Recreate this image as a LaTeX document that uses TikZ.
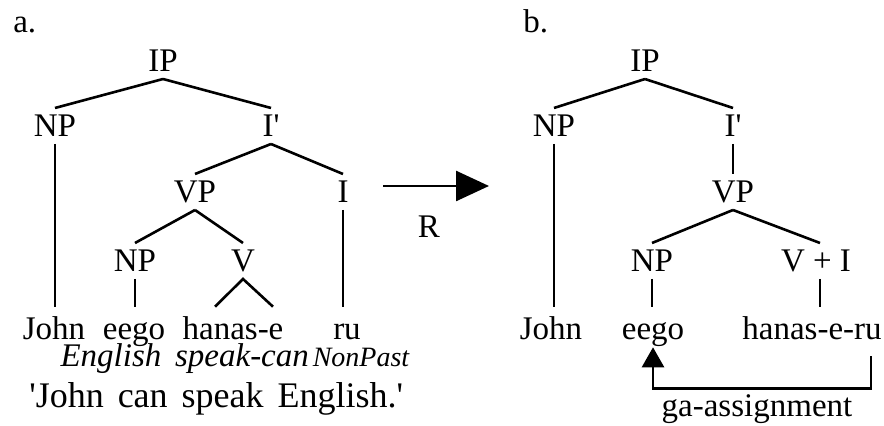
\documentclass[tikz,border=0pt]{standalone}
\usepackage{fontspec}
\setmainfont{Liberation Serif}
\usetikzlibrary{arrows.meta}
\newcommand{\treefont}{\fontsize{16.5}{19}\selectfont}

\begin{document}
\begin{tikzpicture}[x=0.5pt, y=-0.5pt, line width=1.3pt,
  cat/.style={font=\treefont, anchor=base, inner sep=0pt, outer sep=3.5pt, text height=11pt, text depth=0pt},
  word/.style={font=\treefont, anchor=base, inner sep=0pt, text height=16pt, text depth=0pt},
  gloss/.style={font=\treefont\itshape, anchor=base, inner sep=0pt},
  plain/.style={font=\treefont, anchor=base, inner sep=0pt}]
\useasboundingbox (0,0) rectangle (884,426);

% Arbol a
\begin{scope}
\node[plain, anchor=base west] (la) at (12,33) {a.};
\node[cat] (aIP) at (163,72) {IP};
\node[cat] (aNP) at (55,137) {NP};
\node[cat] (aIb) at (271,137) {I\textquotesingle};
\node[cat] (aVP) at (195,203) {VP};
\node[cat] (aI) at (343,203) {I};
\node[cat] (aNPb) at (135,272) {NP};
\node[cat] (aV) at (243,272) {V};
\node[word] (aJohn) at (54,340) {John};
\node[word] (aeego) at (134,340) {eego};
\node[word] (ahanase) at (233,340) {hanas-e};
\node[word] (aru) at (347,340) {ru};
\node[gloss] (aEnglish) at (111,367) {English};
\node[gloss] (aspeak) at (242,367) {speak-can};
\node[plain, font=\fontsize{14}{16}\selectfont\itshape] (aNonPast) at (361,367) {NonPast};
\node[plain, anchor=base west, font=\fontsize{18}{20}\selectfont] (atrans) at (28,408)
  {\spaceskip=7pt\textquotesingle John can speak English.\textquotesingle};
\draw (aIP.south) -- (aNP.north);
\draw (aIP.south) -- (aIb.north);
\draw (aNP.south) -- (aNP.south |- aJohn.north);
\draw (aIb.south) -- (aVP.north);
\draw (aIb.south) -- (aI.north);
\draw (aVP.south) -- (aNPb.north);
\draw (aVP.south) -- (aV.north);
\draw (aNPb.south) -- (aNPb.south |- aeego.north);
\draw ([xshift=-9pt]ahanase.north) -- (aV.south) -- ([xshift=20pt]ahanase.north);
\draw (aI.south) -- (aI.south |- aru.north);
\end{scope}

% Flecha R
\coordinate (Rstart) at (383,186);
\coordinate (Rend) at (489,186);
\draw[-{Triangle[length=16.5pt, width=15pt]}] (Rstart) -- (Rend);
\node[plain] (R) at (429,238) {R};

% Arbol b
\begin{scope}
\node[plain, anchor=base west] (lb) at (522,33) {b.};
\node[cat] (bIP) at (645,72) {IP};
\node[cat] (bNP) at (554,137) {NP};
\node[cat] (bIb) at (733,137) {I\textquotesingle};
\node[cat] (bVP) at (733,203) {VP};
\node[cat] (bNPb) at (652,272) {NP};
\node[cat] (bVI) at (816,272) {V + I};
\node[word] (bJohn) at (551,340) {John};
\node[word] (beego) at (653,340) {eego};
\node[word] (bhanaseru) at (812,340) {hanas-e-ru};
\node[plain] (bga) at (757,417) {ga-assignment};
\draw (bIP.south) -- (bNP.north);
\draw (bIP.south) -- (bIb.north);
\draw (bNP.south) -- (bNP.south |- bJohn.north);
\draw (bIb.south) -- (bVP.north);
\draw (bVP.south) -- (bNPb.north);
\draw (bVP.south) -- ([xshift=2pt]bVI.north);
\draw (bNPb.south) -- (bNPb.south |- beego.north);
\draw ([xshift=2pt]bVI.south) -- ([xshift=2pt]bVI.south |- bhanaseru.north);
\draw[-{Triangle[length=10pt, width=11pt]}] ([shift={(-12,15)}]bhanaseru.south east) -- ++(0,32) -| ([yshift=-3pt]beego.south);
\end{scope}
\end{tikzpicture}
\end{document}
